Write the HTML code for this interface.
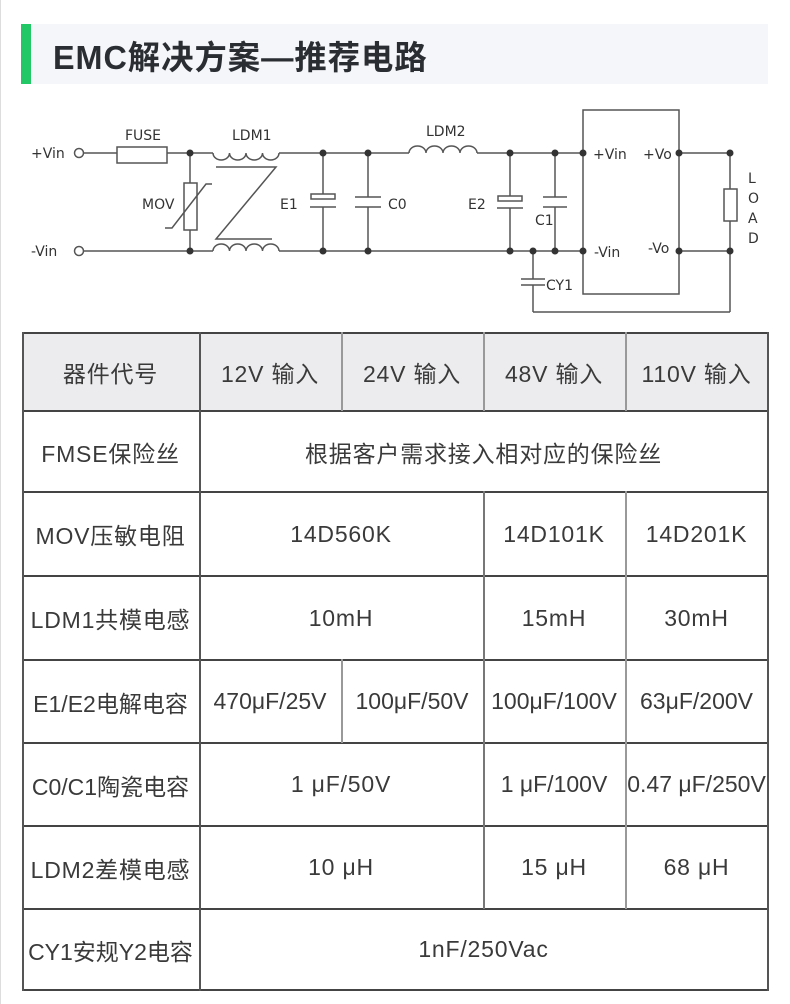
<!DOCTYPE html>
<html><head><meta charset="utf-8"><style>
body{margin:0;width:790px;height:1004px;background:#fff;position:relative;overflow:hidden;font-family:"Liberation Sans","Noto Sans CJK SC",sans-serif}
.hd{position:absolute;left:21px;top:24px;width:747px;height:60px;background:#f5f6fa}
.gb{position:absolute;left:21px;top:24px;width:10px;height:60px;background:#22c865}
.ht{position:absolute;left:53px;top:31px;font-size:33px;font-weight:bold;color:#2a2e33;font-family:"Liberation Sans","Noto Sans CJK SC",sans-serif;letter-spacing:1px;transform:scaleX(0.98);transform-origin:left}
.c{position:absolute;display:flex;align-items:center;justify-content:center;font-size:23px;color:#3a3a3a;white-space:nowrap;font-family:"Liberation Sans","Noto Sans CJK SC",sans-serif;letter-spacing:0.8px}
.h{position:absolute;background:#444;height:2px}
.v{position:absolute;background:#555;width:1.5px}
</style></head><body>
<div style="position:absolute;left:0;top:0;width:1px;height:1004px;background:#ddd"></div>
<div class="hd"></div><div class="gb"></div>
<div class="ht">EMC解决方案—推荐电路</div>
<svg style="position:absolute;left:0;top:0" width="790" height="330" font-family="DejaVu Sans, Liberation Sans, sans-serif" font-size="14" fill="#333">
<g stroke="#555" stroke-width="1.5" fill="none">
<circle cx="79" cy="153" r="4.5"/><circle cx="79" cy="251" r="4.5"/>
<line x1="84" y1="153" x2="117" y2="153"/><rect x="117" y="147" width="50" height="16"/>
<line x1="167" y1="153" x2="213" y2="153"/>
<path d="M213 153 a8.25 7 0 0 0 16.5 0 a8.25 7 0 0 0 16.5 0 a8.25 7 0 0 0 16.5 0 a8.25 7 0 0 0 16.5 0"/>
<line x1="279" y1="153" x2="409" y2="153"/>
<path d="M409 153 a8.5 7 0 0 1 17 0 a8.5 7 0 0 1 17 0 a8.5 7 0 0 1 17 0 a8.5 7 0 0 1 17 0"/>
<line x1="477" y1="153" x2="583" y2="153"/>
<line x1="84" y1="251" x2="213" y2="251"/>
<path d="M213 251 a8.25 7 0 0 1 16.5 0 a8.25 7 0 0 1 16.5 0 a8.25 7 0 0 1 16.5 0 a8.25 7 0 0 1 16.5 0"/>
<line x1="279" y1="251" x2="583" y2="251"/>
<polyline points="216,167 276,167 216,239 272,239"/>
<line x1="190" y1="153" x2="190" y2="183"/><rect x="184" y="183" width="13" height="47"/><line x1="190" y1="230" x2="190" y2="251"/>
<polyline points="165,228 172,228 206,184 212,184"/>
<line x1="323" y1="153" x2="323" y2="194"/><rect x="311" y="194" width="24" height="5"/><line x1="310" y1="207" x2="336" y2="207"/><line x1="323" y1="207" x2="323" y2="251"/>
<line x1="368" y1="153" x2="368" y2="197"/><line x1="355" y1="197" x2="381" y2="197"/><line x1="355" y1="207" x2="381" y2="207"/><line x1="368" y1="207" x2="368" y2="251"/>
<line x1="510" y1="153" x2="510" y2="196"/><rect x="498" y="196" width="24" height="5"/><line x1="497" y1="208" x2="523" y2="208"/><line x1="510" y1="208" x2="510" y2="251"/>
<line x1="555" y1="153" x2="555" y2="197"/><line x1="543" y1="197" x2="567" y2="197"/><line x1="543" y1="207" x2="567" y2="207"/><line x1="555" y1="207" x2="555" y2="251"/>
<rect x="583" y="110" width="96" height="184"/>
<line x1="679" y1="153" x2="730" y2="153"/><line x1="679" y1="251" x2="730" y2="251"/>
<line x1="730" y1="153" x2="730" y2="189"/><rect x="724" y="189" width="13" height="32"/><line x1="730" y1="221" x2="730" y2="312"/>
<line x1="533" y1="251" x2="533" y2="279"/><line x1="521" y1="279" x2="545" y2="279"/><line x1="521" y1="285" x2="545" y2="285"/><line x1="533" y1="285" x2="533" y2="312"/><line x1="533" y1="312" x2="730" y2="312"/>
</g>
<g fill="#333">
<circle cx="190" cy="153" r="3.5"/><circle cx="190" cy="251" r="3.5"/>
<circle cx="323" cy="153" r="3.5"/><circle cx="323" cy="251" r="3.5"/>
<circle cx="368" cy="153" r="3.5"/><circle cx="368" cy="251" r="3.5"/>
<circle cx="510" cy="153" r="3.5"/><circle cx="510" cy="251" r="3.5"/>
<circle cx="555" cy="153" r="3.5"/><circle cx="555" cy="251" r="3.5"/>
<circle cx="583" cy="153" r="3.5"/><circle cx="583" cy="251" r="3.5"/>
<circle cx="679" cy="153" r="3.5"/><circle cx="679" cy="251" r="3.5"/>
<circle cx="730" cy="153" r="3.5"/><circle cx="730" cy="251" r="3.5"/>
<circle cx="533" cy="251" r="3.5"/>
<text x="31" y="158">+Vin</text><text x="31" y="256">-Vin</text>
<text x="125" y="140">FUSE</text><text x="232" y="140">LDM1</text><text x="426" y="136">LDM2</text>
<text x="142" y="209">MOV</text><text x="280" y="209">E1</text><text x="388" y="209">C0</text>
<text x="468" y="209">E2</text><text x="535" y="225">C1</text><text x="546" y="290">CY1</text>
<text x="593" y="159">+Vin</text><text x="643" y="159">+Vo</text>
<text x="594" y="257">-Vin</text><text x="648" y="253">-Vo</text>
<text x="748" y="183">L</text><text x="748" y="203">O</text><text x="748" y="223">A</text><text x="748" y="243">D</text>
</g>
</svg>
<div style="position:absolute;left:22px;top:333px;width:746px;height:78px;background:#ececee"></div>
<div class="h" style="left:22px;top:332px;width:747px"></div>
<div class="h" style="left:22px;top:410px;width:747px"></div>
<div class="h" style="left:22px;top:491px;width:747px"></div>
<div class="h" style="left:22px;top:575px;width:747px"></div>
<div class="h" style="left:22px;top:659px;width:747px"></div>
<div class="h" style="left:22px;top:742px;width:747px"></div>
<div class="h" style="left:22px;top:825px;width:747px"></div>
<div class="h" style="left:22px;top:908px;width:747px"></div>
<div class="h" style="left:22px;top:989px;width:747px;height:1.5px"></div>
<div class="v" style="left:22px;top:332px;height:659px"></div>
<div class="v" style="left:199px;top:332px;height:659px"></div>
<div class="v" style="left:767px;top:332px;height:659px"></div>
<div class="v" style="left:341px;top:332px;height:79px;background:#999"></div>
<div class="v" style="left:483px;top:332px;height:79px;background:#999"></div>
<div class="v" style="left:625px;top:332px;height:79px;background:#999"></div>
<div class="v" style="left:483px;top:491px;height:418px;background:#777"></div>
<div class="v" style="left:625px;top:491px;height:418px;background:#999"></div>
<div class="v" style="left:341px;top:659px;height:84px;background:#999"></div>
<div class="c" style="left:22px;top:333px;width:177px;height:78px">器件代号</div>
<div class="c" style="left:199px;top:333px;width:142px;height:78px">12V 输入</div>
<div class="c" style="left:341px;top:333px;width:142px;height:78px">24V 输入</div>
<div class="c" style="left:483px;top:333px;width:142px;height:78px">48V 输入</div>
<div class="c" style="left:625px;top:333px;width:143px;height:78px">110V 输入</div>
<div class="c" style="left:22px;top:411px;width:177px;height:81px">FMSE保险丝</div>
<div class="c" style="left:199px;top:411px;width:569px;height:81px">根据客户需求接入相对应的保险丝</div>
<div class="c" style="left:22px;top:492px;width:177px;height:84px">MOV压敏电阻</div>
<div class="c" style="left:199px;top:492px;width:284px;height:84px">14D560K</div>
<div class="c" style="left:483px;top:492px;width:142px;height:84px">14D101K</div>
<div class="c" style="left:625px;top:492px;width:143px;height:84px">14D201K</div>
<div class="c" style="left:22px;top:576px;width:177px;height:84px">LDM1共模电感</div>
<div class="c" style="left:199px;top:576px;width:284px;height:84px">10mH</div>
<div class="c" style="left:483px;top:576px;width:142px;height:84px">15mH</div>
<div class="c" style="left:625px;top:576px;width:143px;height:84px">30mH</div>
<div class="c" style="left:22px;top:660px;width:177px;height:83px;letter-spacing:0">E1/E2电解电容</div>
<div class="c" style="left:199px;top:660px;width:142px;height:83px;letter-spacing:0">470μF/25V</div>
<div class="c" style="left:341px;top:660px;width:142px;height:83px;letter-spacing:0">100μF/50V</div>
<div class="c" style="left:483px;top:660px;width:142px;height:83px;letter-spacing:0">100μF/100V</div>
<div class="c" style="left:625px;top:660px;width:143px;height:83px;letter-spacing:0">63μF/200V</div>
<div class="c" style="left:22px;top:743px;width:177px;height:83px;letter-spacing:0">C0/C1陶瓷电容</div>
<div class="c" style="left:199px;top:743px;width:284px;height:83px">1 μF/50V</div>
<div class="c" style="left:483px;top:743px;width:142px;height:83px;letter-spacing:0">1 μF/100V</div>
<div class="c" style="left:625px;top:743px;width:143px;height:83px;letter-spacing:0">0.47 μF/250V</div>
<div class="c" style="left:22px;top:826px;width:177px;height:83px">LDM2差模电感</div>
<div class="c" style="left:199px;top:826px;width:284px;height:83px">10 μH</div>
<div class="c" style="left:483px;top:826px;width:142px;height:83px">15 μH</div>
<div class="c" style="left:625px;top:826px;width:143px;height:83px">68 μH</div>
<div class="c" style="left:22px;top:909px;width:177px;height:81px;letter-spacing:0">CY1安规Y2电容</div>
<div class="c" style="left:199px;top:909px;width:569px;height:81px">1nF/250Vac</div>
</body></html>
